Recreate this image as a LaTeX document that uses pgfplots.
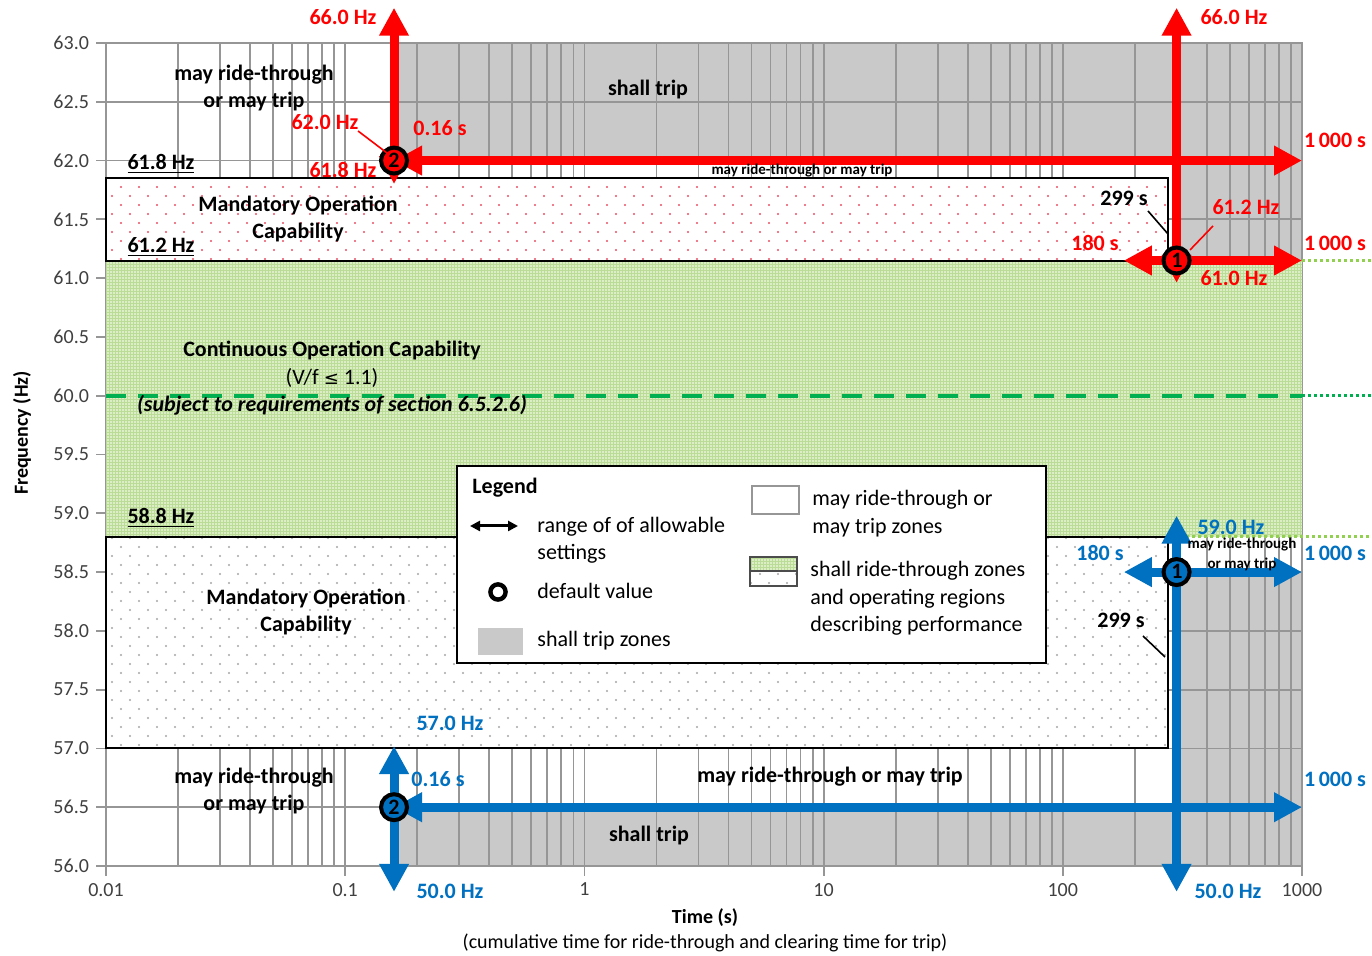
\documentclass[border=0pt]{standalone}
\usepackage{pgfplots}
\pgfplotsset{compat=1.18}
\usepackage{fontspec}
\setmainfont{Carlito}
\newfontfamily\dejavu{DejaVu Sans}
\usetikzlibrary{arrows.meta,patterns}
\definecolor{myred}{RGB}{255,0,0}
\definecolor{myblue}{RGB}{0,112,192}
\definecolor{tripgray}{RGB}{201,201,201}
\definecolor{gridgray}{RGB}{150,150,150}
\definecolor{greenbg}{RGB}{220,238,198}
\definecolor{greenln}{RGB}{186,220,150}
\definecolor{dashgreen}{RGB}{0,176,80}
\definecolor{lightgreen}{RGB}{146,208,80}
\definecolor{dotred}{RGB}{232,80,100}
\definecolor{dotgray}{RGB}{165,165,165}
\definecolor{ticktext}{RGB}{64,64,64}

\pgfdeclarepatternformonly{sparsedots}{\pgfpoint{-1pt}{-1pt}}{\pgfpoint{10pt}{10pt}}{\pgfpoint{9pt}{9pt}}{%
  \pgfpathcircle{\pgfpoint{2pt}{2pt}}{0.6pt}%
  \pgfpathcircle{\pgfpoint{6.5pt}{6.5pt}}{0.6pt}%
  \pgfusepath{fill}}
\pgfdeclarepatternformonly{finegrid}{\pgfpoint{-0.5pt}{-0.5pt}}{\pgfpoint{2pt}{2pt}}{\pgfpoint{1.5pt}{1.5pt}}{%
  \pgfsetlinewidth{0.35pt}%
  \pgfpathmoveto{\pgfpoint{0pt}{0.75pt}}\pgfpathlineto{\pgfpoint{1.5pt}{0.75pt}}%
  \pgfpathmoveto{\pgfpoint{0.75pt}{0pt}}\pgfpathlineto{\pgfpoint{0.75pt}{1.5pt}}%
  \pgfusepath{stroke}}

\newcommand{\fB}{\fontsize{11}{13}\selectfont\bfseries}
\newcommand{\fR}{\fontsize{11}{13}\selectfont}
\newcommand{\fT}{\fontsize{10}{12}\selectfont}
\newcommand{\fS}{\fontsize{7.5}{9}\selectfont\bfseries}

\tikzset{bigarrow/.style={line width=4.5pt, {Triangle[length=14pt,width=14pt]}-{Triangle[length=14pt,width=14pt]}}}

\begin{document}
\begin{tikzpicture}
\begin{axis}[
  at={(53pt,45pt)}, anchor=south west,
  width=598pt, height=411.5pt, scale only axis,
  xmode=log, log basis x=10,
  xmin=0.01, xmax=1000, ymin=56, ymax=63,
  xtick={0.01,0.1,1,10,100,1000},
  xticklabels={0.01,0.1,1,10,100,1000},
  minor xtick={0.02,0.03,0.04,0.05,0.06,0.07,0.08,0.09,0.2,0.3,0.4,0.5,0.6,0.7,0.8,0.9,2,3,4,5,6,7,8,9,20,30,40,50,60,70,80,90,200,300,400,500,600,700,800,900},
  ytick={56,56.5,57,57.5,58,58.5,59,59.5,60,60.5,61,61.5,62,62.5,63},
  yticklabels={56.0,56.5,57.0,57.5,58.0,58.5,59.0,59.5,60.0,60.5,61.0,61.5,62.0,62.5,63.0},
  grid=both,
  major grid style={gridgray, line width=0.9pt},
  minor grid style={gridgray, line width=0.9pt},
  tick align=outside, tick pos=left,
  major tick length=5pt, minor tick length=0pt,
  tick style={gridgray, line width=0.9pt},
  axis line style={gridgray, line width=0.9pt},
  tick label style={font=\fT, text=ticktext},
  clip=false, set layers,
]
% shall trip zones (below the grid)
\addplot[on layer=axis background, fill=tripgray, draw=none]
  coordinates {(0.16,62) (0.16,63) (1000,63) (1000,61.15) (299,61.15) (299,62)} --cycle;
\addplot[on layer=axis background, fill=tripgray, draw=none]
  coordinates {(0.16,56) (0.16,56.5) (299,56.5) (299,58.5) (1000,58.5) (1000,56)} --cycle;
% continuous operation band
\addplot[fill=greenbg, draw=none, postaction={pattern=finegrid, pattern color=greenln}]
  coordinates {(0.01,58.8) (1000,58.8) (1000,61.15) (0.01,61.15)} --cycle;
% mandatory operation boxes
\addplot[fill=white, draw=black, line width=1pt, postaction={pattern=sparsedots, pattern color=dotred}]
  coordinates {(0.01,61.15) (275,61.15) (275,61.85) (0.01,61.85)} --cycle;
\addplot[fill=white, draw=black, line width=1pt, postaction={pattern=sparsedots, pattern color=dotgray}]
  coordinates {(0.01,57) (275,57) (275,58.8) (0.01,58.8)} --cycle;
% nominal line
\addplot[dashgreen, line width=2pt, dash pattern=on 10pt off 6pt] coordinates {(0.01,60) (1000,60)};
\addplot[dashgreen, line width=1.6pt, dash pattern=on 1.5pt off 1.5pt] coordinates {(1000,60) (1960,60)};
\addplot[lightgreen, line width=1.6pt, dash pattern=on 1.5pt off 1.5pt] coordinates {(1000,61.15) (1960,61.15)};
\addplot[lightgreen, line width=1.6pt, dash pattern=on 1.5pt off 1.5pt] coordinates {(310,58.8) (1960,58.8)};
% red (over-frequency) settings ranges
\addplot[myred, bigarrow] coordinates {(0.16,62) (1000,62)};
\addplot[myred, bigarrow] coordinates {(0.16,61.8) (0.16,63.3)};
\addplot[myred, bigarrow] coordinates {(180,61.15) (1000,61.15)};
\addplot[myred, bigarrow] coordinates {(299,60.96) (299,63.3)};
% blue (under-frequency) settings ranges
\addplot[myblue, bigarrow] coordinates {(0.16,56.5) (1000,56.5)};
\addplot[myblue, bigarrow] coordinates {(0.16,57.02) (0.16,55.78)};
\addplot[myblue, bigarrow] coordinates {(180,58.5) (1000,58.5)};
\addplot[myblue, bigarrow] coordinates {(299,58.98) (299,55.78)};
% default values
\addplot[only marks, mark=*, mark size=6.5pt, mark options={fill=myred, draw=black, line width=2pt}]
  coordinates {(0.16,62) (299,61.15)};
\addplot[only marks, mark=*, mark size=6.5pt, mark options={fill=myblue, draw=black, line width=2pt}]
  coordinates {(0.16,56.5) (299,58.5)};
\end{axis}

\begin{scope}[x=0.5pt, y=-0.5pt, shift={(0pt,478pt)}, every node/.style={inner sep=0pt}]
\tikzset{rl/.style={font=\fB, text=myred}, bl/.style={font=\fB, text=myblue}, kl/.style={font=\fB, text=black}}
% numbers in the default-value circles
\node[font=\fB] at (394,160) {2};
\node[font=\fB] at (1177,260) {1};
\node[font=\fB] at (1177,571) {1};
\node[font=\fB] at (394,807) {2};
% axis titles
\node[font=\fT\bfseries, rotate=90] at (22,433) {Frequency (Hz)};
\node[font=\fT\bfseries] at (705,918) {Time (s)};
\node[font=\fT] at (705,943) {(cumulative time for ride-through and clearing time for trip)};
% red labels
\node[rl] at (343,17) {66.0 Hz};
\node[rl] at (1234,17) {66.0 Hz};
\node[rl] at (325,122) {62.0 Hz};
\draw[myred, line width=0.8pt] (358,131) -- (387,153);
\node[rl] at (440,128) {0.16 s};
\node[rl] at (343,170) {61.8 Hz};
\node[rl] at (1335,140) {1\,000 s};
\node[rl] at (1246,207) {61.2 Hz};
\draw[myred, line width=0.8pt] (1213,226) -- (1190,250);
\node[rl] at (1335,243) {1\,000 s};
\node[rl] at (1095,243) {180 s};
\node[rl] at (1234,278) {61.0 Hz};
% black labels, upper part
\node[kl] at (1124,198) {299 s};
\draw[black, line width=0.8pt] (1148,211) -- (1168,234);
\node[kl] at (648,90) {shall trip};
\node[kl] at (254,75) {may ride-through};
\node[kl] at (254,102) {or may trip};
\node[kl] at (161,164) {\underline{61.8 Hz}};
\node[kl] at (161,247) {\underline{61.2 Hz}};
\node[kl] at (161,518) {\underline{58.8 Hz}};
\node[kl] at (298,206) {Mandatory Operation};
\node[kl] at (298,233) {Capability};
\node[font=\fS] at (802,171) {may ride-through or may trip};
\node[kl] at (332,351) {Continuous Operation Capability};
\node[font=\fR] at (332,378) {(V/f {\dejavu\fontsize{9}{11}\selectfont ≤} 1.1)};
\node[font=\fB\itshape] at (332,405) {(subject to requirements of section 6.5.2.6)};
% lower part
\node[kl] at (306,599) {Mandatory Operation};
\node[kl] at (306,626) {Capability};
\node[bl] at (1231,527) {59.0 Hz};
\node[bl] at (1100,553) {180 s};
\node[bl] at (1335,553) {1\,000 s};
\node[font=\fS] at (1242,545) {may ride-through};
\node[font=\fS] at (1242,564) {or may trip};
\node[kl] at (1121,620) {299 s};
\draw[black, line width=0.8pt] (1143,636) -- (1165,657);
\node[bl] at (450,723) {57.0 Hz};
\node[bl] at (438,779) {0.16 s};
\node[kl] at (254,778) {may ride-through};
\node[kl] at (254,805) {or may trip};
\node[kl] at (830,777) {may ride-through or may trip};
\node[kl] at (649,836) {shall trip};
\node[bl] at (1335,779) {1\,000 s};
\node[bl] at (450,891) {50.0 Hz};
\node[bl] at (1228,891) {50.0 Hz};
% legend
\draw[black, line width=1pt, fill=white] (457,466) rectangle (1046,663);
\node[anchor=west, font=\fB] at (472,488) {Legend};
\draw[line width=1.5pt, {Triangle[length=5pt,width=5pt]}-{Triangle[length=5pt,width=5pt]}] (470,526) -- (518,526);
\node[anchor=west, font=\fR] at (537,527) {range of of allowable};
\node[anchor=west, font=\fR] at (537,554) {settings};
\draw[line width=2.2pt] (498,592) circle [radius=3.8pt];
\node[anchor=west, font=\fR] at (537,591) {default value};
\fill[tripgray] (478,628) rectangle (523,655);
\node[anchor=west, font=\fR] at (537,641) {shall trip zones};
\draw[gridgray, line width=1pt, fill=white] (752,486) rectangle (799,514);
\node[anchor=west, font=\fR] at (812,500) {may ride-through or};
\node[anchor=west, font=\fR] at (812,528) {may trip zones};
\fill[greenbg] (750,557) rectangle (797,571);
\fill[pattern=finegrid, pattern color=greenln] (750,557) rectangle (797,571);
\fill[pattern=sparsedots, pattern color=dotgray] (750,571) rectangle (797,586);
\draw[black!70, line width=1pt] (750,557) rectangle (797,586);
\draw[black!70, line width=1pt] (750,571) -- (797,571);
\node[anchor=west, font=\fR] at (810,571) {shall ride-through zones};
\node[anchor=west, font=\fR] at (810,599) {and operating regions};
\node[anchor=west, font=\fR] at (810,626) {describing performance};
\end{scope}
\pgfresetboundingbox
\useasboundingbox (0,0) rectangle (686pt,478pt);
\end{tikzpicture}
\end{document}
